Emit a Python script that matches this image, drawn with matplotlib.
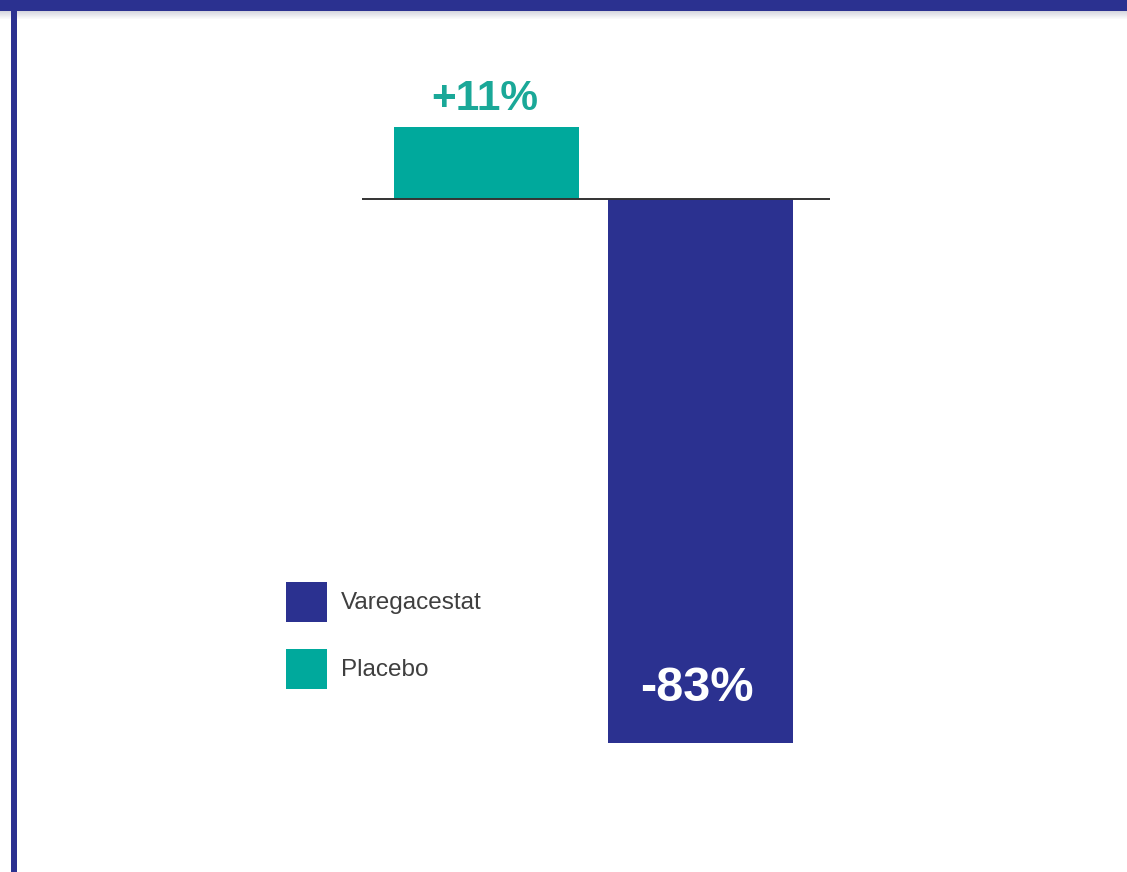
import matplotlib.pyplot as plt
from matplotlib.patches import Rectangle

# percent change from baseline
groups = ["Placebo", "Varegacestat"]
changes = [11, -83]
value_labels = ["+11%", "-83%"]
legend_order = ["Varegacestat", "Placebo"]

NAVY = "#2B3190"
TEAL = "#00A99C"

W, H = 1127, 872
fig = plt.figure(figsize=(W / 100, H / 100), dpi=100)
fig.patch.set_facecolor("white")


def fx(px):
    return px / W


def fy(py):
    # pixel row (from top) -> figure fraction
    return 1 - py / H


# frame: thick bar on top, thin rule on the left, soft shadow under the top bar
for i in range(8):
    fig.add_artist(Rectangle((0, fy(12 + i)), 1, 1 / H, transform=fig.transFigure,
                             facecolor="#1c2050", alpha=0.18 * (1 - i / 8), lw=0))
fig.add_artist(Rectangle((0, fy(11)), 1, 11 / H, transform=fig.transFigure,
                         facecolor=NAVY, lw=0))
fig.add_artist(Rectangle((fx(11), 0), 5.5 / W, fy(9), transform=fig.transFigure,
                         facecolor=NAVY, lw=0))

# axes placed so bar 0 is centred near x=486 px and the zero line sits at y=199 px
px_per_pct = 6.56
ax_top, ax_bot = 50, 790
ax = fig.add_axes([fx(362), fy(ax_bot), fx(830) - fx(362), (ax_bot - ax_top) / H])
ax.set_xlim(-124.5 / 214, 1 + 129.5 / 214)
ax.set_ylim(-(ax_bot - 199) / px_per_pct, (199 - ax_top) / px_per_pct)
ax.axis("off")

bar_colors = [TEAL, NAVY]
xs = range(len(groups))
ax.bar(xs, changes, width=185 / 214, color=bar_colors, zorder=2)
ax.axhline(0, color="#333333", lw=1.4, zorder=3)

ax.text(-0.01, changes[0] + 4.2, value_labels[0], ha="center", va="center",
        color="#1aa898", fontsize=30.5, fontweight="bold", family="Liberation Sans")
ax.text(0.985, changes[1] + 8.4, value_labels[1], ha="center", va="center",
        color="white", fontsize=35, fontweight="bold", family="Liberation Sans")

# legend drawn as swatches + text
color_of = dict(zip(groups, bar_colors))
for i, name in enumerate(legend_order):
    top = 582 + i * 67
    fig.add_artist(Rectangle((fx(286), fy(top + 40)), 41 / W, 40 / H,
                             transform=fig.transFigure, facecolor=color_of[name], lw=0))
    fig.text(fx(341), fy(top + 21), name, ha="left", va="center", color="#3f3f3f",
             fontsize=17.5, family="Liberation Sans")

fig.savefig("out.png", dpi=100)
